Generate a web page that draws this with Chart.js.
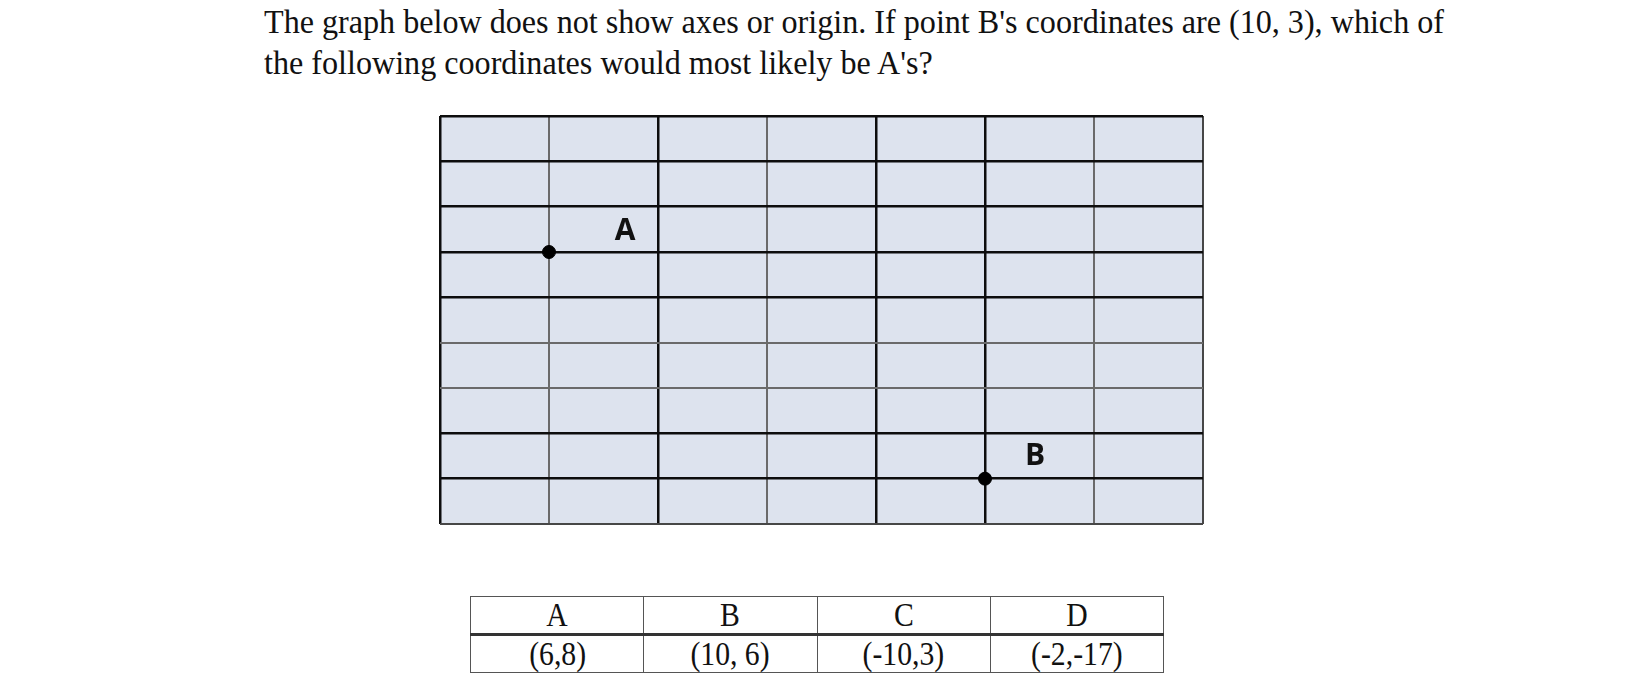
<!DOCTYPE html>
<html>
<head>
<meta charset="utf-8">
<script src="https://cdn.jsdelivr.net/npm/chart.js@4.4.1/dist/chart.umd.min.js"></script>
<style>
  html, body { margin:0; padding:0; background:#fff; }
  body { width:1634px; height:686px; position:relative; overflow:hidden; }
  #question {
    position:absolute; left:264px; top:2px;
    font-family:"Liberation Serif","Times New Roman",serif;
    font-size:33px; line-height:41px; color:#111;
    white-space:nowrap; transform-origin:0 0;
  }
  #box { position:absolute; left:430px; top:106px; width:783px; height:428px; }
  #answers {
    position:absolute; left:470px; top:596px; width:694px;
    border-collapse:collapse; table-layout:fixed;
    font-family:"Liberation Serif","Times New Roman",serif; font-size:33px; color:#111;
  }
  #answers td { border:1.5px solid #555; height:36px; padding:0; text-align:center; line-height:34px; }
  #answers tr:first-child td { border-bottom:3px solid #333; }
  #answers span { display:inline-block; transform:scaleX(0.9); }
</style>
</head>
<body>
<div id="question"><span id="line1"></span><br><span id="line2"></span></div>
<div id="box"><canvas id="grid"></canvas></div>
<table id="answers"><tr id="letters"></tr><tr id="coords"></tr></table>
<script>
var line1 = "The graph below does not show axes or origin. If point B's coordinates are (10, 3), which of";
var line2 = "the following coordinates would most likely be A's?";

// grid cells (columns x rows), points drawn in grid units counted from bottom-left
var colTicks = [0, 1, 2, 3, 4, 5, 6, 7];
var rowTicks = [0, 1, 2, 3, 4, 5, 6, 7, 8, 9];
var heavyCols = [0, 2, 4, 5];
var heavyRows = [1, 2, 5, 6, 7, 8, 9];

var pointNames = ['A', 'B'];
var pointX = [1, 5];
var pointY = [6, 1];

var optionLetters = ['A', 'B', 'C', 'D'];
var optionCoords = ['(6,8)', '(10, 6)', '(-10,3)', '(-2,-17)'];

$ = function(id){ return document.getElementById(id); };
$('line1').textContent = line1;
$('line2').textContent = line2;
var w = $('line1').getBoundingClientRect().width;
$('question').style.transform = 'scaleX(' + (1180 / w) + ')';

for (var i = 0; i < optionLetters.length; i++) {
  $('letters').innerHTML += '<td><span>' + optionLetters[i] + '</span></td>';
  $('coords').innerHTML += '<td><span>' + optionCoords[i] + '</span></td>';
}

var bgPlugin = {
  id: 'bg',
  beforeDraw: function(chart){
    var a = chart.chartArea, c = chart.ctx;
    c.save();
    c.fillStyle = '#dde3ee';
    c.fillRect(a.left, a.top, a.right - a.left, a.bottom - a.top);
    c.restore();
  }
};

var labelPlugin = {
  id: 'pointLabels',
  afterDatasetsDraw: function(chart){
    var c = chart.ctx;
    var meta = chart.getDatasetMeta(0);
    var offs = [[76, -21], [50, -22]];
    c.save();
    c.font = 'bold 30px "Open Sans"';
    c.fillStyle = '#111';
    c.textAlign = 'center';
    c.textBaseline = 'middle';
    meta.data.forEach(function(p, i){
      c.fillText(pointNames[i], p.x + offs[i][0], p.y + offs[i][1]);
    });
    c.restore();
  }
};

function lineColor(heavy, v, edge){
  if (heavy.indexOf(v) >= 0) return '#0d0d0d';
  if (edge) return '#474747';
  return '#6a6a6a';
}

new Chart($('grid'), {
  type: 'scatter',
  data: {
    datasets: [{
      data: pointX.map(function(x, i){ return { x: x, y: pointY[i] }; }),
      backgroundColor: '#000',
      borderColor: '#000',
      pointRadius: 6.5,
      pointHoverRadius: 6.5
    }]
  },
  options: {
    responsive: true,
    maintainAspectRatio: false,
    animation: false,
    layout: { padding: 10 },
    plugins: { legend: { display: false }, tooltip: { enabled: false } },
    scales: {
      x: {
        type: 'linear', min: colTicks[0], max: colTicks[colTicks.length - 1],
        ticks: { stepSize: 1, display: false },
        border: { display: false },
        grid: {
          drawTicks: false,
          color: function(ctx){ return lineColor(heavyCols, ctx.tick.value, ctx.tick.value === 7); },
          lineWidth: function(ctx){ return heavyCols.indexOf(ctx.tick.value) >= 0 ? 2.5 : 2; }
        }
      },
      y: {
        type: 'linear', min: rowTicks[0], max: rowTicks[rowTicks.length - 1],
        ticks: { stepSize: 1, display: false },
        border: { display: false },
        grid: {
          drawTicks: false,
          color: function(ctx){ return lineColor(heavyRows, ctx.tick.value, ctx.tick.value === 0); },
          lineWidth: function(ctx){ return heavyRows.indexOf(ctx.tick.value) >= 0 ? 2.5 : 2; }
        }
      }
    }
  },
  plugins: [bgPlugin, labelPlugin]
});
</script>
</body>
</html>
